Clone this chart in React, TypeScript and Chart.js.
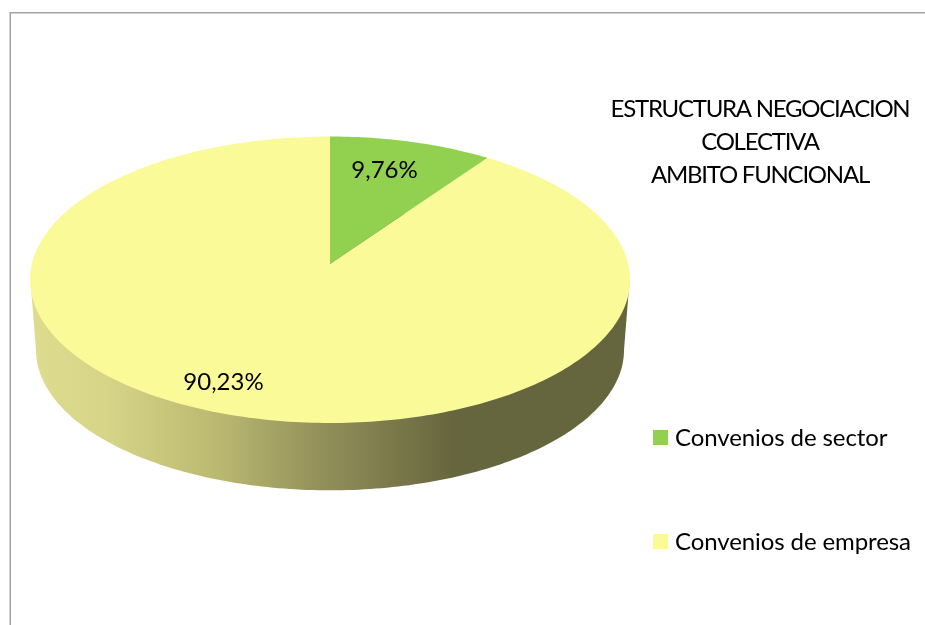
import React, { useEffect, useRef } from "react";
import { Chart, registerables } from "chart.js";

Chart.register(...registerables);

const categories = ["Convenios de sector", "Convenios de empresa"];
const shares = [9.76, 90.23];
const sliceColors = ["#92D050", "#FBFA99"];
const titleLines = ["ESTRUCTURA NEGOCIACION", "COLECTIVA", "AMBITO FUNCIONAL"];

const FONT = "Lato";
const TEXT = "#000000";

// perspective of the disc
const CX = 330;
const APEX_Y = 264;
const A = 298.2;
const B = 141.5;
const K = 0.11;

function project(angle: number, r: number, scale = 1, cy = APEX_Y): [number, number] {
  const u = Math.cos(angle) * r;
  const v = -Math.sin(angle) * r;
  const w = 1 + K * v;
  return [CX + (scale * A * u) / w, cy - (scale * B * v) / w];
}

function ringPath(ctx: CanvasRenderingContext2D, scale: number, cy: number) {
  ctx.beginPath();
  for (let i = 0; i <= 360; i++) {
    const [x, y] = project((i * Math.PI) / 180, 1, scale, cy);
    if (i === 0) ctx.moveTo(x, y);
    else ctx.lineTo(x, y);
  }
  ctx.closePath();
}

const perspectivePie = {
  id: "perspectivePie",
  beforeDatasetDraw(chart: any) {
    const ctx: any = chart.ctx;
    const meta = chart.getDatasetMeta(0);
    const colors = chart.data.datasets[0].backgroundColor as string[];
    const values = chart.data.datasets[0].data as number[];

    ctx.save();

    // frame
    ctx.strokeStyle = "#A3A3A3";
    ctx.lineWidth = 1.5;
    ctx.beginPath();
    ctx.moveTo(10.25, 625);
    ctx.lineTo(10.25, 12.75);
    ctx.lineTo(925, 12.75);
    ctx.stroke();

    // wall
    const grad = ctx.createLinearGradient(30, 0, 630, 0);
    const stops: [number, string][] = [
      [0, "#DEDC8E"],
      [0.13, "#D6D487"],
      [0.3, "#BDBB72"],
      [0.5, "#8F8D58"],
      [0.62, "#787649"],
      [0.71, "#65653E"],
      [1, "#66663E"],
    ];
    stops.forEach(([p, c]) => grad.addColorStop(p, c));
    ctx.fillStyle = grad;
    ringPath(ctx, 0.98, 334.5);
    ctx.fill();
    ctx.beginPath();
    ctx.moveTo(30.5, 281);
    ctx.lineTo(629.5, 281);
    ctx.lineTo(624, 350);
    ctx.lineTo(36, 350);
    ctx.closePath();
    ctx.fill();

    // slices, from the angles the library computed
    const order = meta.data.map((_: any, i: number) => i).reverse();
    order.forEach((i: number) => {
      const arc = meta.data[i];
      const { startAngle, endAngle } = arc.getProps(["startAngle", "endAngle"], true);
      ctx.beginPath();
      const [ax, ay] = project(0, 0);
      ctx.moveTo(ax, ay);
      const steps = Math.max(4, Math.ceil(((endAngle - startAngle) * 180) / Math.PI));
      for (let s = 0; s <= steps; s++) {
        const [x, y] = project(startAngle + ((endAngle - startAngle) * s) / steps, 1);
        ctx.lineTo(x, y);
      }
      ctx.closePath();
      ctx.fillStyle = colors[i];
      ctx.fill();
    });

    // value labels
    ctx.fillStyle = TEXT;
    ctx.font = `24px ${FONT}`;
    ctx.textAlign = "center";
    ctx.textBaseline = "alphabetic";
    const labelAt: [number, number][] = [
      [384.5, 178],
      [223.5, 390],
    ];
    values.forEach((v, i) => {
      ctx.fillText(v.toFixed(2).replace(".", ",") + "%", labelAt[i][0], labelAt[i][1]);
    });

    // title
    ctx.letterSpacing = "-1.25px";
    titleLines.forEach((line, i) => {
      ctx.fillText(line, 760, 117 + i * 33);
    });

    // legend
    ctx.letterSpacing = "-0.1px";
    ctx.textAlign = "left";
    const legendY = [437.5, 541.5];
    (chart.data.labels as string[]).forEach((label, i) => {
      ctx.fillStyle = colors[i];
      ctx.fillRect(653, legendY[i] - 7.5, 15, 15);
      ctx.fillStyle = TEXT;
      ctx.fillText(label, 675, legendY[i] + 8);
    });
    ctx.letterSpacing = "0px";

    ctx.restore();
    return false;
  },
};

export default function App() {
  const ref = useRef<HTMLCanvasElement>(null);

  useEffect(() => {
    document.body.style.margin = "0";
    document.body.style.overflow = "hidden";
    const chart = new Chart(ref.current!, {
      type: "pie",
      data: {
        labels: categories,
        datasets: [{ data: shares, backgroundColor: sliceColors, borderWidth: 0 }],
      },
      options: {
        responsive: false,
        animation: false,
        plugins: {
          legend: { display: false },
          title: { display: false },
          tooltip: { enabled: false },
        },
      },
      plugins: [perspectivePie],
    } as any);
    return () => chart.destroy();
  }, []);

  return <canvas ref={ref} width={925} height={625} style={{ display: "block" }} />;
}
